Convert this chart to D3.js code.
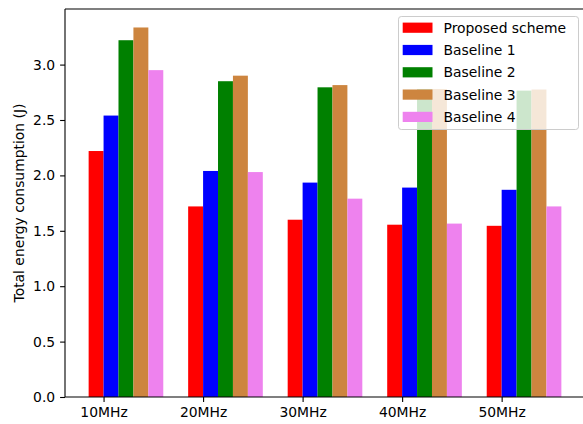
<!DOCTYPE html>
<html>
<head>
<meta charset="utf-8">
<script src="https://cdn.jsdelivr.net/npm/d3@7"></script>
<style>
  html, body { margin: 0; padding: 0; background: #fff; }
  svg { display: block; font-family: "DejaVu Sans", sans-serif; }
</style>
</head>
<body>
<svg id="chart" width="583" height="424"></svg>
<script>
const categories = ["10MHz", "20MHz", "30MHz", "40MHz", "50MHz"];
const seriesNames = ["Proposed scheme", "Baseline 1", "Baseline 2", "Baseline 3", "Baseline 4"];
const seriesColors = ["#ff0000", "#0000ff", "#008000", "#cd853f", "#ee82ee"];
const proposed  = [2.22, 1.72, 1.60, 1.555, 1.545];
const baseline1 = [2.54, 2.04, 1.935, 1.89, 1.87];
const baseline2 = [3.22, 2.85, 2.795, 2.78, 2.765];
const baseline3 = [3.335, 2.90, 2.815, 2.78, 2.775];
const baseline4 = [2.95, 2.03, 1.79, 1.565, 1.72];
const yTicks = [0.0, 0.5, 1.0, 1.5, 2.0, 2.5, 3.0];
const yLabel = "Total energy consumption (J)";

(function () {
const seriesValues = [proposed, baseline1, baseline2, baseline3, baseline4];
const barW = 0.15;

const svg = d3.select("#chart");
const pL = 65, pR = 585, pT = 9, pB = 397;

const xMin = -barW / 2, xMax = (categories.length - 1) + (seriesNames.length - 1) * barW + barW / 2;
const xPad = (xMax - xMin) * 0.05;
const x = d3.scaleLinear().domain([xMin - xPad, xMax + xPad]).range([pL, pR]);
const yMax = d3.max(seriesValues.flat()) * 1.05;
const y = d3.scaleLinear().domain([0, yMax]).range([pB, pT]);

// bars
const data = [];
seriesValues.forEach((vals, s) => vals.forEach((v, i) => data.push({ s, i, v })));
svg.append("g").selectAll("rect").data(data).enter().append("rect")
  .attr("x", d => x(d.i + d.s * barW - barW / 2))
  .attr("width", d => x(barW) - x(0))
  .attr("y", d => y(d.v))
  .attr("height", d => y(0) - y(d.v))
  .attr("fill", d => seriesColors[d.s]);

// axes
const fontSize = 13.9;
const yAxis = d3.axisLeft(y).tickValues(yTicks).tickFormat(d3.format(".1f")).tickSize(4.9).tickPadding(4.9);
const gy = svg.append("g").attr("transform", `translate(${pL},0)`).call(yAxis);
const xAxis = d3.axisBottom(x).tickValues(categories.map((c, i) => i + barW / 2))
  .tickFormat((d, k) => categories[k]).tickSize(4.9).tickPadding(4.9);
const gx = svg.append("g").attr("transform", `translate(0,${pB})`).call(xAxis);
[gx, gy].forEach(g => {
  g.select(".domain").remove();
  g.selectAll("line").attr("stroke", "#000").attr("stroke-width", 1.1);
  g.selectAll("text").attr("font-size", fontSize).attr("fill", "#000")
    .attr("font-family", "DejaVu Sans, sans-serif");
});

// spines
const sp = svg.append("g").attr("stroke", "#000").attr("stroke-width", 1.1).attr("fill", "none");
sp.append("line").attr("x1", pL).attr("x2", pL).attr("y1", pT).attr("y2", pB);
sp.append("line").attr("x1", pL).attr("x2", pR).attr("y1", pT).attr("y2", pT);
sp.append("line").attr("x1", pL).attr("x2", pR).attr("y1", pB).attr("y2", pB);
sp.append("line").attr("x1", pR).attr("x2", pR).attr("y1", pT).attr("y2", pB);

// y label
svg.append("text")
  .attr("transform", `translate(19,${(pT + pB) / 2}) rotate(-90)`)
  .attr("text-anchor", "middle").attr("dominant-baseline", "central")
  .attr("font-size", fontSize).attr("fill", "#000").text(yLabel);

// legend
const lg = svg.append("g");
lg.append("rect").attr("x", 398.5).attr("y", 16.5).attr("width", 180).attr("height", 113)
  .attr("rx", 2.8).attr("fill", "#fff").attr("fill-opacity", 0.8)
  .attr("stroke", "#cccccc").attr("stroke-width", 1);
seriesNames.forEach((name, k) => {
  const cy = 27.6 + k * 22.3;
  lg.append("rect").attr("x", 402.7).attr("y", cy - 5).attr("width", 29.8).attr("height", 10.2)
    .attr("fill", seriesColors[k]);
  lg.append("text").attr("x", 443.5).attr("y", cy).attr("dominant-baseline", "central")
    .attr("font-size", fontSize).attr("fill", "#000").text(name);
});
})();
</script>
</body>
</html>
